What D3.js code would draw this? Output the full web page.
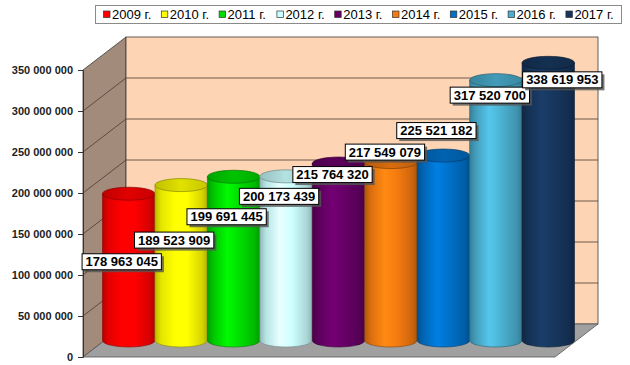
<!DOCTYPE html>
<html><head><meta charset="utf-8">
<script src="https://cdn.jsdelivr.net/npm/d3@7"></script>
<style>html,body{margin:0;padding:0;background:#fff;}svg{display:block;}</style>
</head><body>
<svg id="c" width="630" height="365"></svg>
<script>
// ---- data ----
const categories = ["2009 г.","2010 г.","2011 г.","2012 г.","2013 г.","2014 г.","2015 г.","2016 г.","2017 г."];
const values = [178963045, 189523909, 199691445, 200173439, 215764320, 217549079, 225521182, 317520700, 338619953];
const colors = ["#ff0000","#ffff00","#00dd00","#ccffff","#660066","#f57a10","#0070c8","#4bb0d0","#17365d"];
const yTicks = [0, 50000000, 100000000, 150000000, 200000000, 250000000, 300000000, 350000000];
// label placement nudges (layout, px, relative to cylinder top centre)
const labelNudge = [[-7,68],[-7,55],[-7,40],[-7,20],[-6,11],[-6,-10],[-7,-25],[-6,15],[14,17]];

const svg = d3.select("#c");
const FONT = "'Liberation Sans', Arial, Helvetica, sans-serif";
const fmt = v => d3.format(",")(v).replace(/,/g, " ");

// geometry
const DX = 43, DY = -33;      // depth offset of back wall
const y = d3.scaleLinear().domain([0, 350000000]).range([357, 70]);
const x = d3.scaleBand().domain(categories).range([83, 555]).padding(0);
const x0 = 83, xR = 555;

const defs = svg.append("defs");

// side wall
svg.append("polygon")
  .attr("points", [[x0, y(0)], [x0, y(350000000)], [x0 + DX, y(350000000) + DY], [x0 + DX, y(0) + DY]].join(" "))
  .attr("fill", "#a38b7b").attr("stroke", "#3a3a3a").attr("stroke-width", 0.8);
// back wall
svg.append("rect")
  .attr("x", x0 + DX).attr("y", y(350000000) + DY)
  .attr("width", xR + DX - (x0 + DX)).attr("height", y(0) - y(350000000))
  .attr("fill", "#fdd5b5").attr("stroke", "#3a3a3a").attr("stroke-width", 0.8);
// floor
svg.append("polygon")
  .attr("points", [[x0, y(0)], [x0 + DX, y(0) + DY], [xR + DX, y(0) + DY], [xR, y(0)]].join(" "))
  .attr("fill", "#a0a0a0").attr("stroke", "#555").attr("stroke-width", 0.8);

// gridlines
const grid = svg.append("g").attr("stroke", "#4a3a30").attr("stroke-width", 0.8);
yTicks.filter(t => t > 0 && t < 350000000).forEach(t => {
  grid.append("line").attr("x1", x0).attr("y1", y(t)).attr("x2", x0 + DX).attr("y2", y(t) + DY);
  grid.append("line").attr("x1", x0 + DX).attr("y1", y(t) + DY).attr("x2", xR + DX).attr("y2", y(t) + DY);
});

// y axis
const axis = d3.axisLeft(y).tickValues(yTicks).tickSize(5).tickPadding(5).tickFormat(fmt);
const ag = svg.append("g").attr("transform", `translate(${x0},0)`).call(axis);
ag.select(".domain").attr("stroke", "#333");
ag.selectAll(".tick line").attr("stroke", "#333");
ag.selectAll("text").attr("font-family", FONT).attr("font-size", 11).attr("font-weight", "bold").attr("fill", "#222");

// cylinders
const CX = 19.5, CY = -16.5, RY = 6.5;
const bw = x.bandwidth();
const rx = bw / 2;
categories.forEach((c, i) => {
  const col = d3.color(colors[i]);
  const g = defs.append("linearGradient").attr("id", "g" + i).attr("x1", "0").attr("x2", "1").attr("y1", "0").attr("y2", "0");
  g.append("stop").attr("offset", "0").attr("stop-color", col.darker(0.9));
  g.append("stop").attr("offset", "0.12").attr("stop-color", col.darker(0.3));
  g.append("stop").attr("offset", "0.38").attr("stop-color", col.brighter(0.35));
  g.append("stop").attr("offset", "0.62").attr("stop-color", col);
  g.append("stop").attr("offset", "0.9").attr("stop-color", col.darker(0.5));
  g.append("stop").attr("offset", "1").attr("stop-color", col.darker(1.0));
  const tg = defs.append("linearGradient").attr("id", "t" + i).attr("x1", "0").attr("x2", "1").attr("y1", "0").attr("y2", "0");
  tg.append("stop").attr("offset", "0").attr("stop-color", col.darker(0.8));
  tg.append("stop").attr("offset", "0.5").attr("stop-color", col.darker(0.35));
  tg.append("stop").attr("offset", "1").attr("stop-color", col.darker(0.7));
});

const bars = svg.append("g");
categories.forEach((c, i) => {
  const xa = x(c) + CX, xb = xa + bw;
  const yt = y(values[i]) + CY, yb = y(0) + CY;
  bars.append("path")
    .attr("d", `M${xa},${yt} L${xa},${yb} A${rx},${RY} 0 0 0 ${xb},${yb} L${xb},${yt} Z`)
    .attr("fill", `url(#g${i})`).attr("stroke", d3.color(colors[i]).darker(1.6)).attr("stroke-width", 0.6);
  bars.append("ellipse")
    .attr("cx", xa + rx).attr("cy", yt).attr("rx", rx).attr("ry", RY)
    .attr("fill", `url(#t${i})`).attr("stroke", d3.color(colors[i]).darker(1.8)).attr("stroke-width", 0.7);
});

// data labels
const lab = svg.append("g");
categories.forEach((c, i) => {
  const cx = x(c) + CX + rx + labelNudge[i][0];
  const cy = y(values[i]) + CY + labelNudge[i][1];
  const t = lab.append("text").text(fmt(values[i]))
    .attr("font-family", FONT).attr("font-size", 13).attr("font-weight", "bold")
    .attr("text-anchor", "middle").attr("x", cx).attr("y", cy + 4.6).attr("fill", "#000");
  const w = t.node().getComputedTextLength() + 7, h = 16;
  lab.insert("rect", "text").attr("x", cx - w / 2 + 2.5).attr("y", cy - h / 2 + 2.5).attr("width", w).attr("height", h).attr("fill", "#555").attr("opacity", 0.8);
  lab.insert("rect", "text").attr("x", cx - w / 2).attr("y", cy - h / 2).attr("width", w).attr("height", h).attr("fill", "#fff").attr("stroke", "#000").attr("stroke-width", 1);
});

// legend
const lg = svg.append("g");
lg.append("rect").attr("x", 95.5).attr("y", 5.5).attr("width", 526).attr("height", 18).attr("fill", "#fff").attr("stroke", "#8a8a8a");
const lx = d3.scaleBand().domain(categories).range([103, 103 + 57.8 * 9]);
categories.forEach((c, i) => {
  lg.append("rect").attr("x", lx(c) + 0.5).attr("y", 11).attr("width", 6.5).attr("height", 6.5)
    .attr("fill", colors[i]).attr("stroke", "#333").attr("stroke-width", 0.7);
  lg.append("text").text(c).attr("x", lx(c) + 9).attr("y", 19.3)
    .attr("font-family", FONT).attr("font-size", 13).attr("fill", "#000");
});
</script>
</body></html>
